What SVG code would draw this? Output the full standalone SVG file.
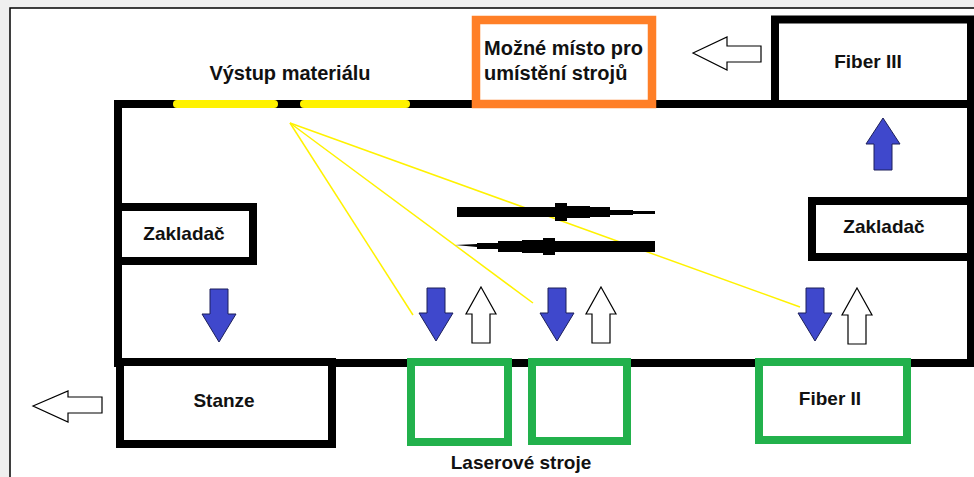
<svg xmlns="http://www.w3.org/2000/svg" width="974" height="477" viewBox="0 0 974 477">
<defs>
<style>
.lbl{font-family:"Liberation Sans",Arial,sans-serif;font-weight:bold;font-size:19px;fill:#111}
.big{font-size:20px}
.box{fill:#fff;stroke:#000;stroke-width:8}
.green{fill:#fff;stroke:#22B14C;stroke-width:8}
.ray{stroke:#FFF200;stroke-width:1.5;fill:none}
.blue{fill:#3F48CC;stroke:#1c1f5a;stroke-width:1}
.white{fill:#fff;stroke:#000;stroke-width:1.2}
</style>
<path id="down" d="M-9,0 H9 V25 H17 L0,53 L-17,25 H-9 Z"/>
<path id="up" d="M0,0 L15,27 H9 V56 H-9 V27 H-15 Z"/>
</defs>
<rect x="0" y="0" width="974" height="477" fill="#efefef"/>
<rect x="10" y="8" width="980" height="480" fill="#fff" stroke="#000" stroke-width="1.5"/>

<g id="hall">
<rect x="118" y="104" width="853" height="259" fill="#fff" stroke="#000" stroke-width="8"/>
<line x1="177" y1="104" x2="274" y2="104" stroke="#FFF200" stroke-width="8" stroke-linecap="round"/>
<line x1="304" y1="104" x2="406" y2="104" stroke="#FFF200" stroke-width="8" stroke-linecap="round"/>
</g>
<text class="lbl big" x="290" y="80" text-anchor="middle">Výstup materiálu</text>

<g id="connectors">
<line class="ray" x1="290" y1="123" x2="413" y2="315"/>
<line class="ray" x1="290" y1="123" x2="533" y2="303"/>
<line class="ray" x1="290" y1="123" x2="800" y2="307"/>
<path d="M457,207 H555 V203 H567 V206 H590 V207 H610 V210 H633 V211 H655 V214 H633 V215 H610 V217 H590 V218 H567 V221 H555 V217 H457 Z" fill="#000"/>
<path d="M455,245 L477,244 V243 H498 V241 H522 V240 H543 V238 H555 V241 H655 V252 H555 V255 H543 V253 H522 V252 H498 V249 H477 V247 Z" fill="#000"/>
<use href="#down" class="blue" transform="translate(219,289)"/>
<use href="#down" class="blue" transform="translate(436,288)"/>
<use href="#down" class="blue" transform="translate(557,288)"/>
<use href="#down" class="blue" transform="translate(815,288)"/>
<use href="#up" class="white" transform="translate(481,287)"/>
<use href="#up" class="white" transform="translate(601,287)"/>
<use href="#up" class="white" transform="translate(857,288)"/>
<path class="blue" d="M883,118 L900,144 H892 V170 H874 V144 H866 Z"/>
<path class="white" d="M693,53 L727,37 V46 H761 V62 H727 V70 Z"/>
<path class="white" d="M33,406 L68,391 V397 H102 V413 H68 V422 Z"/>
</g>

<g id="misto">
<rect x="476" y="20" width="176" height="84" fill="#fff" stroke="#FF7F27" stroke-width="8.5"/>
<text class="lbl big" x="484" y="55">Možné místo pro</text>
<text class="lbl big" x="484" y="80">umístění strojů</text>
</g>
<g id="fiber3">
<rect class="box" x="775" y="19.5" width="196" height="84.5"/>
<text class="lbl" x="868" y="68" text-anchor="middle">Fiber III</text>
</g>
<g id="zakladac-left">
<rect class="box" x="118" y="207" width="135" height="54"/>
<text class="lbl" x="184" y="240" text-anchor="middle">Zakladač</text>
</g>
<g id="zakladac-right">
<rect class="box" x="812" y="201" width="159" height="56"/>
<text class="lbl" x="884" y="233" text-anchor="middle">Zakladač</text>
</g>
<g id="stanze">
<rect class="box" x="120" y="362" width="212" height="82"/>
<text class="lbl" x="224" y="407" text-anchor="middle">Stanze</text>
</g>
<g id="laser1">
<rect class="green" x="411" y="362" width="97" height="80"/>
</g>
<g id="laser2">
<rect class="green" x="532" y="362" width="95" height="79"/>
</g>
<g id="fiber2">
<rect class="green" x="759" y="362" width="148" height="78"/>
<text class="lbl" x="830" y="405" text-anchor="middle">Fiber II</text>
</g>
<text class="lbl" x="521" y="469" text-anchor="middle">Laserové stroje</text>
</svg>
